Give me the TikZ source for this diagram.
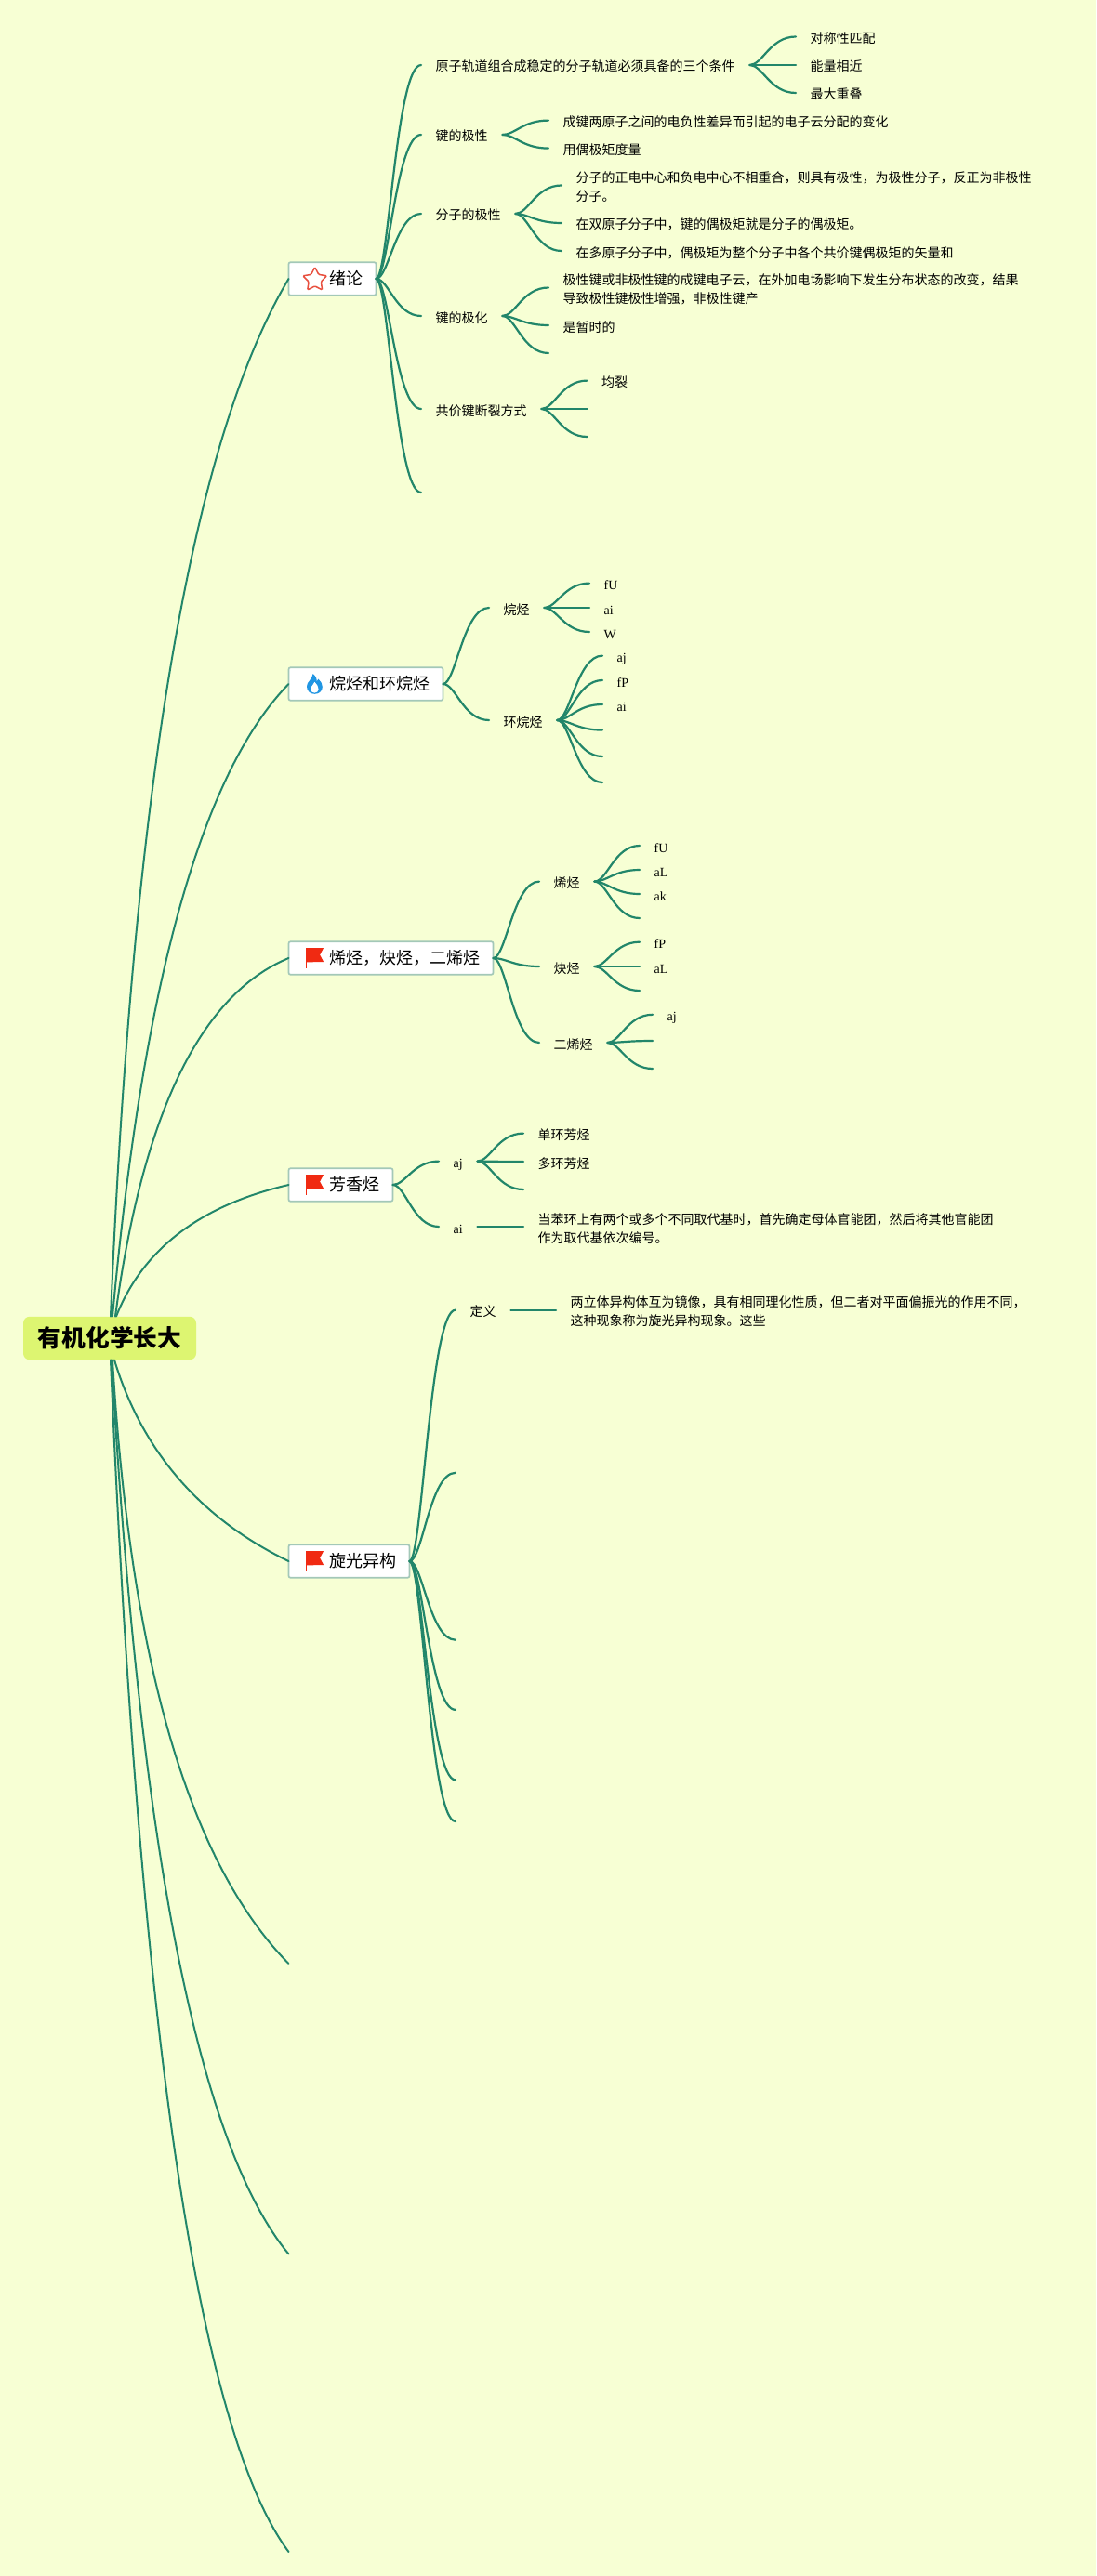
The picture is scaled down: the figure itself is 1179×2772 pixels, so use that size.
\documentclass[tikz,border=0pt]{standalone}
\usepackage{fontspec}
\setmainfont{Noto Sans CJK SC}
\newfontfamily\latinserif{Liberation Serif}
\usetikzlibrary{calc,shapes.geometric}
\definecolor{bgc}{HTML}{F7FFD4}
\definecolor{linec}{HTML}{22866A}
\definecolor{boxline}{HTML}{A3C8B8}
\definecolor{rootfill}{HTML}{DDF571}
\definecolor{iconred}{HTML}{F02A12}
\definecolor{starred}{HTML}{E8503F}
\definecolor{iconblue}{HTML}{2196E3}
\tikzset{
  branch/.style={draw=linec,line width=2.2pt,line cap=round},
  rootbranch/.style={draw=linec,line width=2pt,line cap=round},
  item/.style={anchor=west,inner xsep=15.5pt,inner ysep=0pt,font=\fontsize{14}{20}\selectfont,text=black},
  one/.style={item,text height=14pt,text depth=6pt},
  many/.style={item,align=left},
  lat/.style={one,font=\fontsize{14}{20}\selectfont\latinserif},
  topic/.style={anchor=west,draw=boxline,fill=white,line width=1.7pt,outer sep=0pt,rounded corners=2pt,inner xsep=14pt,inner ysep=0pt,minimum height=35.5pt,text height=17pt,text depth=3.5pt,font=\fontsize{18}{22}\selectfont,text=black},
  rootbox/.style={fill=rootfill,rounded corners=7pt,minimum width=186pt,minimum height=46.5pt,inner sep=0pt,font=\fontsize{25.7}{30}\selectfont\bfseries,text=black},
  flagicon/.pic={
    \fill[iconred] (18.6,-11) -- (37.6,-11) -- (33.6,-3.5) -- (37.6,4) -- (18.6,4.4) -- cycle;
    \draw[iconred,line width=0.8pt] (18.8,-11) -- (18.8,10.7);
  }
}
\newcommand\tp[1]{\hspace*{30pt}#1}
\newcommand\link[2]{\draw[branch] let \p1=(#1),\p2=(#2) in (\p1) .. controls (\x1+0.28*\x2-0.28*\x1,\y1) and (\x1+0.44*\x2-0.44*\x1,\y2) .. (\p2);}
\newcommand\bl[2]{\link{#1.east}{[yshift=3pt]#2.west}}
\newcommand\tl[2]{\link{[yshift=3pt]#1.east}{[yshift=3pt]#2.west}}
\newcommand\rootlink[3]{\draw[rootbranch] (#1) .. controls ($(#1)!0.6667!(#2)$) and ($(#3)!0.6667!(#2)$) .. (#3);}
\begin{document}
\begin{tikzpicture}[x=1pt,y=-1pt]
\useasboundingbox (0,0) rectangle (1179,2772);
\fill[bgc] (0,0) rectangle (1179,2772);

% root and topics
\node[rootbox] (root) at (118,1440) {有机化学长大};
\node[topic] (A) at (310.5,300) {\tp{绪论}};
\node[topic] (B) at (310.5,736) {\tp{烷烃和环烷烃}};
\node[topic] (C) at (310.5,1031) {\tp{烯烃，炔烃，二烯烃}};
\node[topic] (D) at (310.5,1275) {\tp{芳香烃}};
\node[topic] (E) at (310.5,1680) {\tp{旋光异构}};
\coordinate (F) at (310.5,2113);
\coordinate (G) at (310.5,2425.5);
\coordinate (H) at (310.5,2746);

% icons
\node[star,star points=5,star point ratio=1.95,draw=starred,fill=white,line width=1.5pt,rounded corners=1.2pt,minimum size=27pt,inner sep=0pt] (staricon) at (338.7,301) {};
\fill[iconblue] (338.3,746.8) .. controls (333,746.8) and (330,743) .. (330,738.5) .. controls (330,733.5) and (335.8,731.5) .. (336.6,725) .. controls (340,727.5) and (341,731) .. (340.6,733.5) .. controls (341.6,733) and (342.2,731.8) .. (342.4,730.6) .. controls (345,733) and (346.8,735.5) .. (346.8,739) .. controls (346.8,743.5) and (343.5,746.8) .. (338.3,746.8) -- cycle;
\fill[white] (338.3,745.6) .. controls (335.5,745.6) and (334,743.6) .. (334,741.4) .. controls (334,738.4) and (337.6,737) .. (338.4,733.8) .. controls (340.8,736.4) and (342.6,738.6) .. (342.6,741.4) .. controls (342.6,743.8) and (341,745.6) .. (338.3,745.6) -- cycle;
\pic at (C.west) {flagicon};
\pic at (D.west) {flagicon};
\pic at (E.west) {flagicon};

% 绪论
\node[one] (a1) at (453,73) {原子轨道组合成稳定的分子轨道必须具备的三个条件};
\node[one] (a11) at (856,42.5) {对称性匹配};
\node[one] (a12) at (856,73) {能量相近};
\node[one] (a13) at (856,103) {最大重叠};
\node[one] (a2) at (453,148) {键的极性};
\node[one] (a21) at (590,132.6) {成键两原子之间的电负性差异而引起的电子云分配的变化};
\node[one] (a22) at (590,162.6) {用偶极矩度量};
\node[one] (a3) at (453,233) {分子的极性};
\node[many] (a31) at (604,202.5) {\strut 分子的正电中心和负电中心不相重合，则具有极性，为极性分子，反正为非极性\\\strut 分子。};
\node[one] (a32) at (604,243) {在双原子分子中，键的偶极矩就是分子的偶极矩。};
\node[one] (a33) at (604,273) {在多原子分子中，偶极矩为整个分子中各个共价键偶极矩的矢量和};
\node[one] (a4) at (453,343) {键的极化};
\node[many] (a41) at (590,312.5) {\strut 极性键或非极性键的成键电子云，在外加电场影响下发生分布状态的改变，结果\\\strut 导致极性键极性增强，非极性键产};
\node[one] (a42) at (590,353) {是暂时的};
\coordinate (a43) at (590,383);
\node[one] (a5) at (453,443) {共价键断裂方式};
\node[one] (a51) at (631.5,412.6) {均裂};
\coordinate (a52) at (631.5,443);
\coordinate (a53) at (631.5,473);
\coordinate (a6) at (453,533);

% 烷烃和环烷烃
\node[one] (b1) at (526,657) {烷烃};
\node[lat] (b11) at (634,630.6) {fU};
\node[lat] (b12) at (634,657) {ai};
\node[lat] (b13) at (634,683) {W};
\node[one] (b2) at (526,778) {环烷烃};
\node[lat] (b21) at (648,708.6) {aj};
\node[lat] (b22) at (648,735) {fP};
\node[lat] (b23) at (648,761) {ai};
\coordinate (b24) at (648,788.6);
\coordinate (b25) at (648,817);
\coordinate (b26) at (648,845);

% 烯烃，炔烃，二烯烃
\node[one] (c1) at (580,951.6) {烯烃};
\node[lat] (c11) at (688,913) {fU};
\node[lat] (c12) at (688,939) {aL};
\node[lat] (c13) at (688,965) {ak};
\coordinate (c14) at (688,991);
\node[one] (c2) at (580,1043) {炔烃};
\node[lat] (c21) at (688,1016.7) {fP};
\node[lat] (c22) at (688,1043) {aL};
\coordinate (c23) at (688,1069);
\node[one] (c3) at (580,1125) {二烯烃};
\node[lat] (c31) at (702,1094.8) {aj};
\coordinate (c32) at (702,1123);
\coordinate (c33) at (702,1153);

% 芳香烃
\node[lat] (d1) at (472,1252.6) {aj};
\node[one] (d11) at (563,1222.6) {单环芳烃};
\node[one] (d12) at (563,1253) {多环芳烃};
\coordinate (d13) at (563,1283);
\node[lat] (d2) at (472,1323) {ai};
\node[many] (d21) at (563,1323) {\strut 当苯环上有两个或多个不同取代基时，首先确定母体官能团，然后将其他官能团\\\strut 作为取代基依次编号。};

% 旋光异构
\node[one] (e1) at (490,1412.6) {定义};
\node[many] (e11) at (598,1412.6) {\strut 两立体异构体互为镜像，具有相同理化性质，但二者对平面偏振光的作用不同，\\\strut 这种现象称为旋光异构现象。这些};
\coordinate (e2) at (490,1587.8);
\coordinate (e3) at (490,1767.7);
\coordinate (e4) at (490,1842.9);
\coordinate (e5) at (490,1918.4);
\coordinate (e6) at (490,1963);

% root connectors
\rootlink{[xshift=1pt]root.north}{155,560}{A.west}
\rootlink{[xshift=3pt]root.north}{170,880}{B.west}
\rootlink{[xshift=6pt]root.north}{168,1090}{C.west}
\rootlink{[xshift=7pt]root.north}{167.8,1308}{D.west}
\rootlink{[xshift=5pt]root.south}{168,1611}{E.west}
\rootlink{[xshift=3pt]root.south}{150,1950}{F}
\rootlink{[xshift=2pt]root.south}{165,2250}{G}
\rootlink{[xshift=1pt]root.south}{165,2550}{H}

% topic connectors
\bl{A}{a1}\bl{A}{a2}\bl{A}{a3}\bl{A}{a4}\bl{A}{a5}\bl{A}{a6}
\bl{B}{b1}\bl{B}{b2}
\bl{C}{c1}\bl{C}{c2}\bl{C}{c3}
\bl{D}{d1}\bl{D}{d2}
\bl{E}{e1}\bl{E}{e2}\bl{E}{e3}\bl{E}{e4}\bl{E}{e5}\bl{E}{e6}

% sub connectors
\tl{a1}{a11}\tl{a1}{a12}\tl{a1}{a13}
\tl{a2}{a21}\tl{a2}{a22}
\tl{a3}{a31}\tl{a3}{a32}\tl{a3}{a33}
\tl{a4}{a41}\tl{a4}{a42}\tl{a4}{a43}
\tl{a5}{a51}\tl{a5}{a52}\tl{a5}{a53}
\tl{b1}{b11}\tl{b1}{b12}\tl{b1}{b13}
\tl{b2}{b21}\tl{b2}{b22}\tl{b2}{b23}\tl{b2}{b24}\tl{b2}{b25}\tl{b2}{b26}
\tl{c1}{c11}\tl{c1}{c12}\tl{c1}{c13}\tl{c1}{c14}
\tl{c2}{c21}\tl{c2}{c22}\tl{c2}{c23}
\tl{c3}{c31}\tl{c3}{c32}\tl{c3}{c33}
\tl{d1}{d11}\tl{d1}{d12}\tl{d1}{d13}
\tl{d2}{d21}
\tl{e1}{e11}
\end{tikzpicture}
\end{document}
